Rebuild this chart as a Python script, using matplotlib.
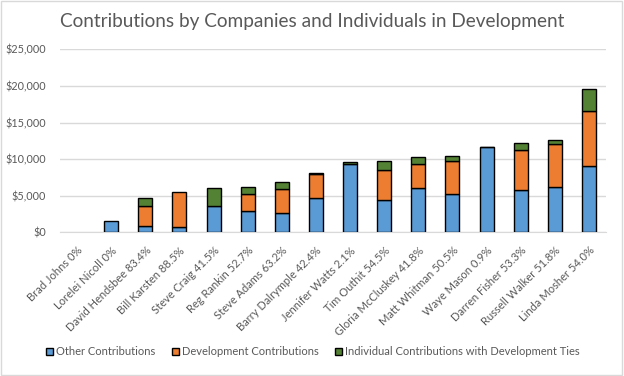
import matplotlib
matplotlib.use("Agg")
import matplotlib.pyplot as plt
from matplotlib.ticker import FuncFormatter
from matplotlib.patches import Rectangle

names = ["Brad Johns 0%", "Lorelei Nicoll 0%", "David Hendsbee 83.4%", "Bill Karsten 88.5%",
         "Steve Craig 41.5%", "Reg Rankin 52.7%", "Steve Adams 63.2%", "Barry Dalrymple 42.4%",
         "Jennifer Watts 2.1%", "Tim Outhit 54.5%", "Gloria McCluskey 41.8%", "Matt Whitman 50.5%",
         "Waye Mason 0.9%", "Darren Fisher 53.3%", "Russell Walker 51.8%", "Linda Mosher 54.0%"]
other = [0, 1600, 820, 680, 3550, 2870, 2600, 4640, 9370, 4370, 6010, 5190, 11610, 5740, 6150, 9020]
development = [0, 0, 2730, 4780, 0, 2320, 3270, 3280, 0, 4100, 3280, 4510, 0, 5460, 5870, 7510]
individual = [0, 0, 1090, 0, 2460, 1000, 1000, 180, 190, 1230, 960, 680, 110, 960, 550, 3010]

series = ["Other Contributions", "Development Contributions", "Individual Contributions with Development Ties"]
colors = ["#5b9bd5", "#ed7d31", "#548235"]

plt.rcParams['font.family'] = ['Lato', 'DejaVu Sans']
fig = plt.figure(figsize=(6.24, 3.76), dpi=100)
ax = fig.add_axes([60/624, 1-232.3/376, 546/624, 183/376])

x = list(range(len(names)))
w = 0.41
bottom2 = [a + b for a, b in zip(other, development)]
for vals, bot, col, lab in [(other, None, colors[0], series[0]),
                            (development, other, colors[1], series[1]),
                            (individual, bottom2, colors[2], series[2])]:
    lws = [1.0 if v > 0 else 0 for v in vals]
    ax.bar(x, vals, w, bottom=bot, color=col, edgecolor="black", linewidth=lws, label=lab, zorder=3)

ax.set_xlim(-0.5, len(names) - 0.5)
ax.set_ylim(0, 25000)
ax.set_yticks(range(0, 25001, 5000))
ax.yaxis.set_major_formatter(FuncFormatter(lambda v, p: "${:,.0f}".format(v)))
ax.grid(axis="y", color="#d9d9d9", linewidth=1.0, zorder=0)
for s in ["top", "right", "left"]:
    ax.spines[s].set_visible(False)
ax.spines["bottom"].set_color("#d9d9d9")
ax.tick_params(axis="both", length=0, labelcolor="#595959")
ax.tick_params(axis="y", pad=10, labelsize=7.8)
ax.set_xticks(x)
ax.set_xticklabels(names, rotation=45, ha="right", rotation_mode="anchor")
ax.tick_params(axis="x", pad=9, labelsize=8)

fig.suptitle("Contributions by Companies and Individuals in Development", y=0.965,
             fontsize=13.7, color="#595959")

leg = ax.legend(loc="center", bbox_to_anchor=(313/624, (376 - 351.7) / 376), bbox_transform=fig.transFigure,
                ncol=3, frameon=False, fontsize=8, handlelength=0.63, handleheight=0.63,
                handletextpad=0.25, columnspacing=1.5, labelcolor="#595959",
                borderpad=0, borderaxespad=0)
for h in leg.legend_handles:
    h.set_linewidth(1.0)

fig.patches.append(Rectangle((0.002, 0.003), 0.995, 0.994, transform=fig.transFigure,
                             fill=False, edgecolor="#d9d9d9", linewidth=1))
fig.savefig("out.png", dpi=100)
